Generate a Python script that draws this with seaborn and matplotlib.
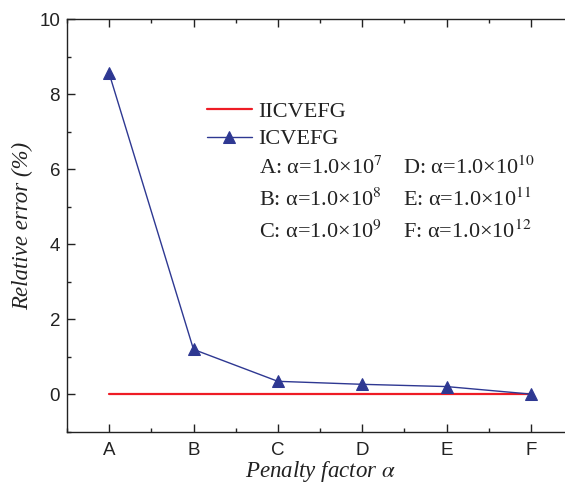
import matplotlib
matplotlib.use("Agg")
import matplotlib.pyplot as plt
from matplotlib.ticker import MultipleLocator, FixedLocator
import seaborn as sns
import pandas as pd

# Penalty factor settings and the relative errors of both formulations
categories = ["A", "B", "C", "D", "E", "F"]
icvefg_error = [8.55, 1.20, 0.35, 0.27, 0.21, 0.01]
iicvefg_error = [0.0, 0.0, 0.0, 0.0, 0.0, 0.0]
alpha_exponents = [7, 8, 9, 10, 11, 12]

sns.set_theme(style="ticks")
plt.rcParams["font.family"] = ["Liberation Sans", "DejaVu Sans"]
plt.rcParams["mathtext.fontset"] = "stix"

pos = list(range(len(categories)))
df = pd.DataFrame({
    "pos": pos * 2,
    "error": iicvefg_error + icvefg_error,
    "method": ["IICVEFG"] * len(pos) + ["ICVEFG"] * len(pos),
})

fig = plt.figure(figsize=(5.65, 4.83), dpi=100)
W, H = 565, 483
ax = fig.add_axes([67 / W, 1 - 432 / H, (573 - 67) / W, 413 / H])

red = "#EE1C25"
blue = "#2E3892"

sns.lineplot(data=df[df.method == "IICVEFG"], x="pos", y="error", ax=ax,
             color=red, linewidth=1.6, label="IICVEFG")
sns.lineplot(data=df[df.method == "ICVEFG"], x="pos", y="error", ax=ax,
             color=blue, linewidth=1.0, marker="^", markersize=9,
             markeredgecolor=blue, markerfacecolor=blue, label="ICVEFG")

ax.set_xlim(-0.5, 5.5)
ax.set_ylim(-1, 10)
ax.xaxis.set_major_locator(FixedLocator(pos))
ax.set_xticklabels(categories)
ax.xaxis.set_minor_locator(MultipleLocator(0.5))
ax.yaxis.set_major_locator(FixedLocator([0, 2, 4, 6, 8, 10]))
ax.yaxis.set_minor_locator(FixedLocator([-1, 1, 3, 5, 7, 9]))

ax.tick_params(which="both", direction="in", top=True, right=False,
               width=1.0, color="#222222", labelsize=13.5, labelcolor="#222222")
ax.tick_params(which="major", length=6)
ax.tick_params(which="minor", length=3)
ax.tick_params(axis="x", which="major", pad=7)
ax.tick_params(axis="y", which="major", pad=5)
for s in ax.spines.values():
    s.set_linewidth(1.0)
    s.set_color("#222222")

serif = ["Liberation Serif", "DejaVu Serif"]
ax.set_xlabel(r"Penalty factor $\alpha$", family=serif, style="italic",
              fontsize=16.5, color="#222222", labelpad=0)
ax.set_ylabel("Relative error (%)", family=serif, style="italic",
              fontsize=16.5, color="#222222", labelpad=4)

leg = ax.legend(loc="upper left", bbox_to_anchor=(191 / W, 1 - 86 / H),
                bbox_transform=fig.transFigure, frameon=False,
                prop={"family": serif, "size": 16}, handlelength=2.05,
                handletextpad=0.27, labelspacing=0.3, borderpad=0.2)
for t in leg.get_texts():
    t.set_color("#222222")

rows_y = [168, 200, 232]
cols_x = [259, 403]
for i, (c, e) in enumerate(zip(categories, alpha_exponents)):
    col, row = divmod(i, 3)
    fig.text(cols_x[col] / W, 1 - rows_y[row] / H,
             c + ": α=1.0×10$^{%d}$" % e,
             family=serif, fontsize=16, color="#222222", va="center")

fig.savefig("out.png", dpi=100)
